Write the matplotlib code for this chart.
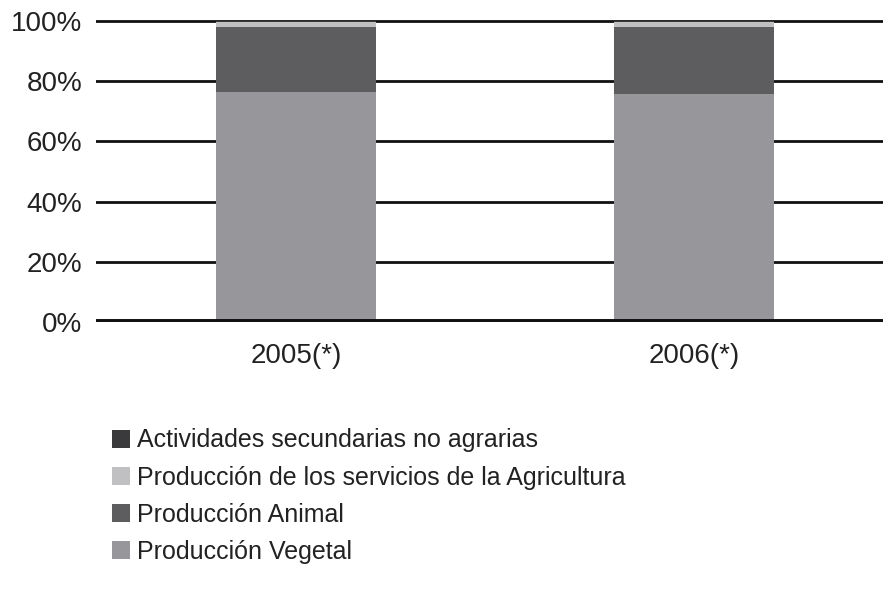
import numpy as np
import matplotlib
matplotlib.use('Agg')
import matplotlib.pyplot as plt
from matplotlib.ticker import PercentFormatter

plt.rcParams.update({'font.family': ['Liberation Sans', 'DejaVu Sans'], 'font.size': 20})

years = ['2005(*)', '2006(*)']
vegetal = [76.4, 75.7]
animal = [21.6, 22.3]
servicios = [1.7, 1.7]
secundarias = [0.3, 0.3]

series = [
    ('Producción Vegetal', vegetal, '#97979b'),
    ('Producción Animal', animal, '#5d5d60'),
    ('Producción de los servicios de la Agricultura', servicios, '#c0c0c2'),
    ('Actividades secundarias no agrarias', secundarias, '#3a3a3c'),
]

fig = plt.figure(figsize=(8.83, 5.96), dpi=100)
ax = fig.add_axes([96/883, 1 - 322/596, 1 - 96/883, (322 - 19)/596])

x = np.arange(len(years))
bottom = np.zeros(len(years))
handles = []
for name, vals, color in series:
    h = ax.bar(x, vals, 0.4, bottom=bottom, color=color, label=name, zorder=3)
    handles.append(h)
    bottom += np.array(vals)

ax.set_ylim(0, 100.6)
ax.set_xlim(-0.5025, 1.475)
ax.set_yticks(np.arange(0, 101, 20))
ax.yaxis.set_major_formatter(PercentFormatter(decimals=0))
for v in range(20, 101, 20):
    ax.axhline(v, color='#111111', lw=2, zorder=1)
ax.axhline(0, color='#111111', lw=5, zorder=4)
for s in ax.spines.values():
    s.set_visible(False)
ax.tick_params(axis='both', length=0, labelsize=20, colors='#222222')
ax.tick_params(axis='y', pad=10)
ax.tick_params(axis='x', pad=15)
ax.set_xticks(x)
ax.set_xticklabels(years)

fig.legend(handles[::-1], [s[0] for s in series[::-1]], loc='upper left',
           bbox_to_anchor=(89/883, 1 - 406/596), frameon=False, fontsize=18,
           handlelength=0.72, handleheight=0.72, handletextpad=0.3, labelspacing=0.52,
           labelcolor='#222222')

plt.savefig('out.png', dpi=100)
